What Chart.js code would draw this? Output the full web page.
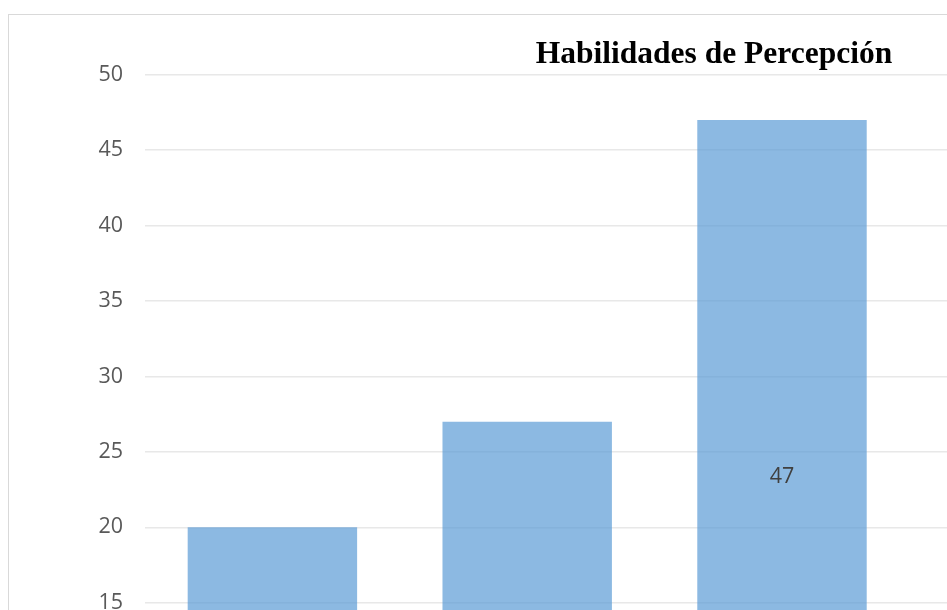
<!DOCTYPE html>
<html>
<head>
<meta charset="utf-8">
<script src="https://cdn.jsdelivr.net/npm/chart.js@4.4.1/dist/chart.umd.min.js"></script>
<style>
  html, body { margin: 0; padding: 0; background: #fff; overflow: hidden; }
  #frame {
    position: absolute; left: 8px; top: 14px;
    width: 1500px; height: 900px;
    border: 1px solid #d9d9d9; background: #fff;
  }
  #chart { position: absolute; left: 0; top: 0; }
</style>
</head>
<body>
<div id="frame">
  <canvas id="chart" width="1410" height="850"></canvas>
</div>
<script>
const categories = ["Bajo", "Medio", "Alto"];
const percepcionValues = [20, 27, 47];
const yTicks = [0, 5, 10, 15, 20, 25, 30, 35, 40, 45, 50];

const palette = {
  bar: "rgba(91, 155, 213, 0.7)",
  grid: "#e8e8e8",
  tick: "#595959",
  label: "#404040",
  title: "#000000",
};

// value labels in the middle of each bar
const barLabels = {
  id: "barLabels",
  afterDatasetsDraw(chart) {
    const ctx = chart.ctx;
    const meta = chart.getDatasetMeta(0);
    ctx.save();
    ctx.font = "21.5px 'Open Sans'";
    ctx.fillStyle = palette.label;
    ctx.textAlign = "center";
    ctx.textBaseline = "middle";
    meta.data.forEach((bar, i) => {
      const mid = (bar.y + bar.base) / 2;
      ctx.fillText(String(percepcionValues[i]), bar.x, mid + 3);
    });
    ctx.restore();
  },
};

new Chart(document.getElementById("chart"), {
  type: "bar",
  data: {
    datasets: [
      {
        label: "Habilidades de Percepción",
        data: percepcionValues.map((v, i) => ({ x: i, y: v })),
        backgroundColor: palette.bar,
        borderWidth: 0,
        categoryPercentage: 1,
        barPercentage: 0.665,
      },
    ],
  },
  options: {
    responsive: false,
    animation: false,
    devicePixelRatio: 1,
    layout: { padding: { top: 0, bottom: 36, left: 0, right: 0 } },
    plugins: {
      legend: { display: false },
      tooltip: { enabled: false },
      title: {
        display: true,
        text: "Habilidades de Percepción",
        color: palette.title,
        font: { family: "'Liberation Serif'", size: 31.5, weight: "bold" },
        padding: { top: 21, bottom: 1 },
      },
    },
    scales: {
      x: {
        type: "linear",
        display: false,
        offset: false,
        min: -0.5,
        max: 4.5,
        afterBuildTicks(scale) {
          scale.ticks = categories.map((_, i) => ({ value: i }));
        },
        ticks: { callback: (v) => categories[v] },
      },
      y: {
        min: 0,
        max: 50,
        afterBuildTicks(scale) {
          scale.ticks = yTicks.map((v) => ({ value: v }));
        },
        afterFit(scale) {
          scale.width = 136;
        },
        border: { display: false },
        grid: { color: palette.grid, lineWidth: 1.5, drawTicks: false },
        ticks: {
          color: palette.tick,
          padding: 22,
          font: { family: "'Open Sans'", size: 21.5 },
        },
      },
    },
  },
  plugins: [barLabels],
});
</script>
</body>
</html>
